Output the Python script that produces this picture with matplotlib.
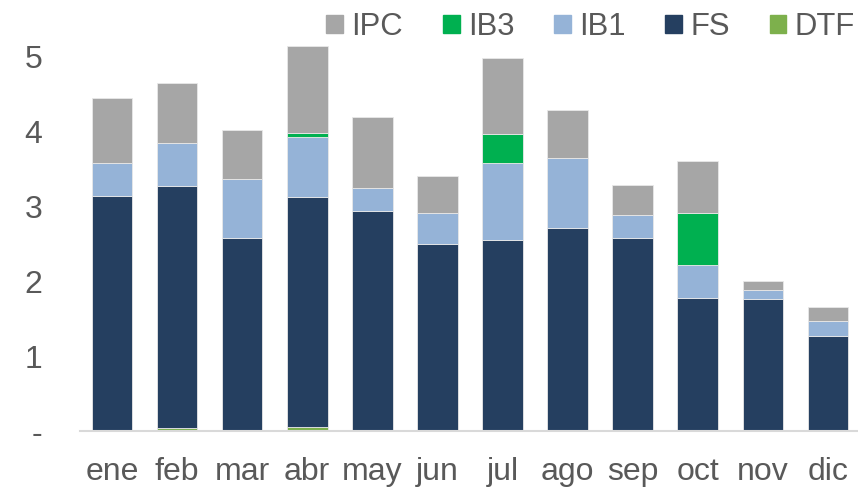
import matplotlib
matplotlib.use("Agg")
import matplotlib.pyplot as plt
from matplotlib.patches import Patch
import numpy as np

months = ["ene", "feb", "mar", "abr", "may", "jun", "jul", "ago", "sep", "oct", "nov", "dic"]
DTF = [0.00, 0.04, 0.00, 0.05, 0.00, 0.00, 0.02, 0.02, 0.00, 0.00, 0.00, 0.00]
FS_top = [3.14, 3.27, 2.57, 3.12, 2.94, 2.50, 2.55, 2.71, 2.57, 1.78, 1.76, 1.27]
IB1 = [0.44, 0.57, 0.79, 0.81, 0.31, 0.41, 1.03, 0.94, 0.31, 0.44, 0.12, 0.20]
IB3 = [0.00, 0.00, 0.00, 0.05, 0.00, 0.00, 0.39, 0.00, 0.00, 0.69, 0.00, 0.00]
IPC = [0.86, 0.81, 0.66, 1.16, 0.94, 0.50, 1.01, 0.63, 0.41, 0.69, 0.12, 0.18]
FS = [t - d for t, d in zip(FS_top, DTF)]
yticks = [0, 1, 2, 3, 4, 5]
ytick_labels = ["-", "1", "2", "3", "4", "5"]

colors = {"DTF": "#7DB04C", "FS": "#253F60", "IB1": "#95B3D7", "IB3": "#00B050", "IPC": "#A6A6A6"}

plt.rcParams['font.family'] = ['Liberation Sans', 'DejaVu Sans']
fig = plt.figure(figsize=(8.58, 4.87), dpi=100)
ax = fig.add_axes([80/858, 56/487, 1 - 80/858, (431-19)/487])

x = np.arange(len(months))
w = 0.625
bottom = np.zeros(len(months))
for name, vals in [("DTF", DTF), ("FS", FS), ("IB1", IB1), ("IB3", IB3), ("IPC", IPC)]:
    v = np.array(vals)
    ax.bar(x, v, w, bottom=bottom, color=colors[name], edgecolor="#E8E8E8", linewidth=0.6, label=name)
    bottom += v

ax.set_xlim(-0.49, 11.46)
ax.set_ylim(0, 5.5)
ax.set_yticks(yticks)
ax.set_yticklabels(ytick_labels)
ax.set_xticks(x)
ax.set_xticklabels(months)
for s in ["top", "right", "left"]:
    ax.spines[s].set_visible(False)
ax.spines["bottom"].set_color("#D9D9D9")
ax.spines["bottom"].set_linewidth(1.5)
ax.tick_params(axis="both", length=0, labelsize=23, colors="#595959")
ax.tick_params(axis="y", pad=27)
ax.tick_params(axis="x", pad=19)

handles = [Patch(color=colors[n], label=n) for n in ["IPC", "IB3", "IB1", "FS", "DTF"]]
leg = fig.legend(handles=handles, loc="upper right", bbox_to_anchor=(1.018, 1.014), ncol=5, frameon=False,
                 fontsize=22.3, handlelength=0.54, handleheight=0.54, handletextpad=0.27,
                 columnspacing=1.28, borderaxespad=0.2)
for t in leg.get_texts():
    t.set_color("#595959")

fig.savefig("out.png", dpi=100)
